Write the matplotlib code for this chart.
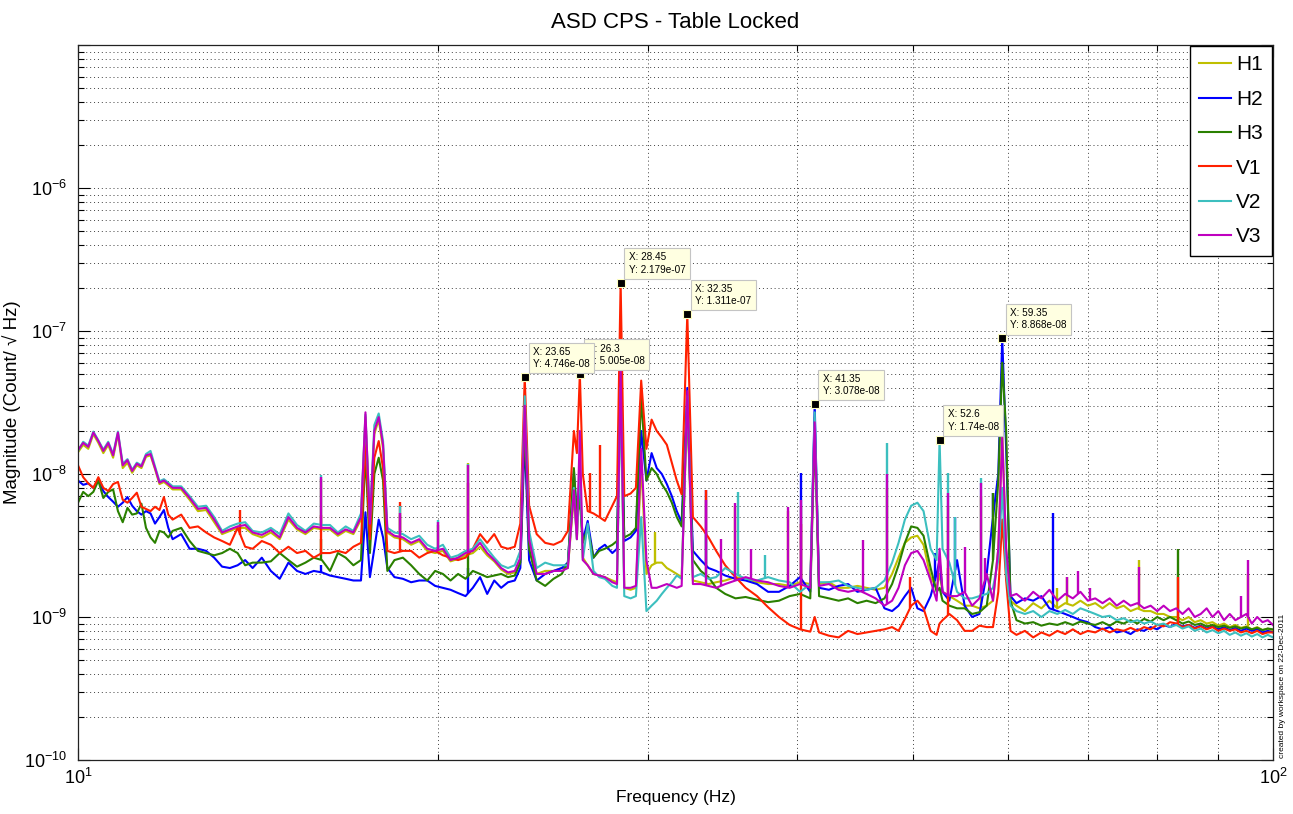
import numpy as np
import matplotlib
matplotlib.use('Agg')
import matplotlib.pyplot as plt
from matplotlib.ticker import FixedLocator, LogLocator, FuncFormatter, NullFormatter

plt.rcParams['font.family'] = ['Liberation Sans', 'DejaVu Sans']
plt.rcParams['mathtext.fontset'] = 'custom'
plt.rcParams['mathtext.rm'] = 'Liberation Sans'
plt.rcParams['mathtext.it'] = 'Liberation Sans:italic'
plt.rcParams['mathtext.bf'] = 'Liberation Sans:bold'

# frequency grid (Hz)
freq = [10.0, 10.1, 10.2, 10.3, 10.4, 10.5, 10.6, 10.7, 10.8, 10.9, 11.0, 11.1, 11.2, 11.3, 11.4, 11.5, 11.6, 11.7, 11.8, 11.9, 12.0,
        12.2, 12.4, 12.6, 12.8, 13.0, 13.2, 13.4, 13.6, 13.8, 14.0,
        14.25, 14.5, 14.75, 15.0, 15.25, 15.5, 15.75, 16.0, 16.25, 16.5, 16.75, 17.0,
        17.25, 17.4, 17.55, 17.7, 17.85, 18.0, 18.15, 18.4,
        18.7, 19.0, 19.3, 19.6, 19.9, 20.2, 20.5, 20.8, 21.1, 21.4, 21.7, 22.0, 22.3, 22.6, 22.9, 23.2, 23.45,
        23.65, 23.85, 24.2, 24.6, 25.0, 25.4, 25.7, 26.0, 26.15, 26.3, 26.45, 26.7, 27.0, 27.3, 27.6, 28.0, 28.25, 28.45,
        28.65, 29.0, 29.3, 29.6, 29.9, 30.2, 30.5, 30.8, 31.1, 31.4, 31.7, 32.0, 32.35, 32.7, 33.2, 33.7, 34.2, 34.8,
        35.5, 36.2, 37.0, 37.8, 38.6, 39.4, 40.2, 41.0, 41.35, 41.7, 42.5, 43.3, 44.1, 44.9, 45.7, 46.5, 47.3, 48.0, 48.6,
        49.2, 49.8, 50.4, 51.0, 51.7, 52.3, 52.6, 52.9, 53.6, 54.4, 55.2, 56.0, 56.8, 57.6, 58.3, 58.9, 59.35, 59.8, 60.3,
        61, 62, 63, 64, 65, 66, 67, 68, 69, 70, 71, 72, 73, 74, 75, 76, 77, 78, 79, 80,
        81, 82, 83, 84, 85, 86, 87, 88, 89, 90, 91, 92, 93, 94, 95, 96, 97, 98, 99, 100]

# magnitudes in units of 1e-9 Count/sqrt(Hz)
h1 = [14.2, 16.0, 15.0, 19.0, 16.5, 14.0, 16.0, 13.0, 19.0, 11.0, 12.0, 10.2, 11.5, 11.0, 13.2, 13.5, 10.8, 8.5, 8.8, 8.3, 7.8,
      7.8, 6.6, 5.5, 5.6, 4.6, 3.8, 4.0, 4.2, 4.2, 3.8,
      3.6, 3.9, 3.5, 4.8, 4.1, 3.8, 4.2, 4.1, 4.1, 3.7, 4.0, 3.8,
      4.8, 25, 4.4, 19, 24, 15, 3.9, 3.6,
      3.5, 3.2, 3.4, 2.9, 2.8, 2.9, 2.45, 2.55, 2.7, 2.8, 3.1, 2.7, 2.45, 2.15, 2.0, 2.05, 2.5,
      28, 3.3, 2.0, 2.1, 2.1, 2.2, 2.2, 7, 3.5, 10, 2.6, 2.3, 2.0, 1.95, 1.9, 1.8, 1.75, 45,
      1.6, 1.55, 1.6, 12, 2.0, 2.3, 2.4, 2.4, 2.2, 2.1, 2.0, 1.9, 30, 1.8, 1.75, 1.7, 1.75, 1.8,
      1.9, 1.85, 1.75, 1.7, 1.7, 1.65, 1.75, 1.7, 25, 1.7, 1.75, 1.6, 1.6, 1.65, 1.6, 1.55, 1.6, 2.0, 2.6,
      3.3, 3.6, 3.7, 3.2, 1.9, 1.6, 2.0, 1.5, 1.4, 1.3, 1.2, 1.2, 1.15, 1.2, 1.3, 3, 20, 3, 1.3,
      1.2, 1.1, 1.25, 1.15, 1.3, 1.15, 1.25, 1.2, 1.3, 1.2, 1.25, 1.15, 1.25, 1.15, 1.2, 1.1, 1.15, 1.1, 1.1, 1.05,
      1.05, 1.0, 1.0, 0.95, 1.0, 0.92, 0.95, 0.9, 0.92, 0.87, 0.9, 0.85, 0.88, 0.84, 0.86, 0.82, 0.85, 0.81, 0.83, 0.8]
h2 = [9.0, 8.4, 8.6, 8.0, 9.0, 7.6, 6.9, 6.4, 5.9, 6.3, 6.9, 6.0, 5.5, 5.2, 5.5, 5.3, 4.5, 5.0, 5.6, 4.2, 3.5,
      3.8, 3.0, 3.0, 2.9, 2.6, 2.25, 2.2, 2.3, 2.5, 2.2,
      2.6, 2.1, 1.85, 2.4, 2.1, 2.0, 2.1, 2.05, 1.95, 1.9, 1.85, 1.8,
      1.8, 5.4, 1.9, 3.0, 4.8, 3.6, 2.2, 1.9,
      1.85, 1.75, 1.8, 1.8, 1.65, 1.6, 1.55, 1.47, 1.4, 1.6, 1.9, 1.45, 1.8, 1.6, 1.75, 1.8, 2.2,
      18, 2.5, 1.8, 2.0, 2.1, 2.2, 2.4, 10.5, 5, 7.7, 3.4, 4.7, 2.6, 3.0, 3.2, 2.8, 3.0, 60,
      3.4, 3.6, 4.0, 20, 9, 14, 11, 10, 8.5, 7, 5.5, 4.6, 40, 2.9, 2.5, 2.2, 2.1, 1.95,
      1.85, 1.8, 1.7, 1.5, 1.5, 1.65, 1.9, 1.5, 30.78, 1.6, 1.55, 1.65, 1.7, 1.5, 1.55, 1.6, 1.15, 1.1, 1.2,
      1.4, 1.6, 1.15, 1.1, 1.4, 2.0, 2.5, 1.5, 1.3, 2.5, 1.2, 1.0, 1.05, 2.0, 5.0, 10, 88.68, 15, 1.4,
      1.25, 1.35, 1.3, 1.4, 1.15, 1.1, 1.05, 1.0, 0.95, 0.92, 0.85, 0.82, 0.85, 0.78, 0.8, 0.76, 0.82, 0.8, 0.85, 0.82,
      0.88, 0.85, 0.9, 0.86, 0.88, 0.84, 0.87, 0.83, 0.86, 0.82, 0.85, 0.81, 0.84, 0.8, 0.83, 0.8, 0.82, 0.78, 0.8, 0.78]
h3 = [6.3, 7.5, 7.0, 7.5, 9.0, 6.8, 7.5, 7.8, 5.5, 4.6, 5.8, 5.2, 5.3, 6.2, 4.2, 3.6, 3.3, 4.0, 3.9, 3.6, 4.0,
      4.2, 3.4, 2.9, 2.8, 2.7, 2.8, 3.0, 2.8, 2.3, 2.4,
      2.4, 2.45, 2.8, 2.5, 2.25, 2.4, 2.6, 2.5, 2.1, 2.8, 2.6, 2.3,
      2.5, 14, 2.8, 10, 13, 9, 2.1, 2.5,
      2.6, 2.3, 2.0, 1.8, 2.1, 2.0, 1.8, 2.0, 1.85, 2.1, 2.0, 1.9, 1.95, 2.0, 1.9, 1.95, 2.4,
      22, 3.0, 1.8, 1.65, 1.85, 2.0, 2.4, 11, 5, 6.6, 3.3, 4.2, 2.6, 2.9, 3.0, 3.2, 3.4, 50,
      3.6, 3.8, 4.2, 35, 9, 11, 10, 8.5, 7.5, 6.3, 5.0, 4.3, 30, 2.5, 2.1, 1.9, 1.6, 1.45,
      1.35, 1.38, 1.32, 1.27, 1.3, 1.4, 1.45, 1.35, 20, 1.4, 1.35, 1.3, 1.35, 1.25, 1.3, 1.25, 1.35, 1.7, 2.3,
      3.3, 4.3, 4.2, 3.7, 2.2, 1.5, 1.6, 1.3, 1.2, 1.15, 1.15, 1.05, 1.08, 1.2, 2.5, 9, 60, 20, 1.3,
      0.95, 0.9, 0.92, 0.87, 0.9, 0.88, 0.92, 0.88, 0.93, 0.9, 0.88, 0.92, 0.87, 0.93, 0.9, 0.95, 0.9, 0.97, 0.93, 1.0,
      0.95, 1.0, 0.95, 0.9, 0.93, 0.88, 0.9, 0.86, 0.88, 0.85, 0.87, 0.84, 0.86, 0.83, 0.85, 0.82, 0.84, 0.81, 0.83, 0.82]
v1 = [11.5, 9.5, 8.6, 8.0, 9.5, 8.0, 7.6, 8.5, 8.8, 6.6, 6.3, 6.8, 7.4, 5.9, 5.7, 5.5, 5.9, 5.6, 6.9, 5.2, 4.8,
      5.2, 4.2, 4.3, 3.9, 3.6, 3.4, 3.2, 4.2, 3.1, 3.0,
      3.4, 3.2, 2.8, 3.1, 2.8, 2.9, 2.6, 2.8, 2.8, 2.9, 2.8, 3.1,
      3.3, 17, 3.5, 13, 17, 11, 2.9, 2.8,
      2.9, 2.9, 2.6, 2.8, 2.9, 2.7, 2.6, 2.5, 2.6, 3.0, 3.8, 3.3, 3.8, 3.1, 3.0, 3.1, 4.5,
      47.46, 6, 3.8, 3.3, 3.2, 3.4, 4.0, 20, 14, 50.05, 10, 5.5, 5.3, 5.0, 4.7, 6.0, 7.0, 217.9,
      7.0, 7.3, 8.0, 45, 15, 24, 20, 18, 16, 12, 9, 7.2, 131.1, 5.0, 4.3, 3.6, 2.9, 2.3,
      1.9, 1.6, 1.4, 1.17, 1.0, 0.88, 0.82, 0.79, 1.0, 0.78, 0.74, 0.72, 0.8, 0.76, 0.78, 0.8, 0.82, 0.85, 0.8,
      0.97, 1.2, 1.3, 1.15, 0.8, 0.75, 0.9, 0.95, 1.05, 0.95, 0.8, 0.8, 0.87, 0.85, 0.85, 1.5, 4.8, 1.8, 0.8,
      0.75, 0.8, 0.72, 0.78, 0.74, 0.8, 0.76, 0.82, 0.76, 0.8, 0.78, 0.83, 0.78, 0.82, 0.8, 0.84, 0.8, 0.85, 0.82, 0.88,
      0.86, 0.92, 0.9, 0.85, 0.88, 0.83, 0.86, 0.82, 0.85, 0.8, 0.83, 0.8, 0.82, 0.78, 0.8, 0.77, 0.8, 0.76, 0.78, 0.78]
v2 = [14.5, 16.8, 15.8, 19.8, 17.2, 14.8, 16.8, 13.8, 19.8, 11.8, 12.7, 10.7, 12.0, 11.5, 13.8, 14.5, 11.3, 8.9, 9.2, 8.7, 8.2,
      8.2, 7.0, 5.9, 6.0, 5.0, 4.0, 4.3, 4.5, 4.6, 4.0,
      3.9, 4.2, 3.8, 5.3, 4.4, 4.0, 4.5, 4.4, 4.4, 3.9, 4.3, 4.0,
      5.3, 26, 4.8, 22, 26.5, 17, 4.2, 3.9,
      3.8, 3.5, 3.7, 3.2, 3.0, 3.2, 2.6, 2.7, 2.9, 3.0, 3.5, 3.0, 2.6, 2.3, 2.2, 2.3, 2.9,
      35, 4, 2.2, 2.4, 2.3, 2.3, 2.3, 8, 3.5, 12, 2.5, 4.5, 2.1, 1.9, 1.85, 1.65, 1.6, 40,
      1.4, 1.35, 1.4, 5, 1.1, 1.2, 1.3, 1.45, 1.6, 1.75, 1.95, 1.85, 35, 1.9, 2.0, 1.85, 1.9, 2.2,
      2.0, 1.85, 1.8, 1.9, 1.8, 1.75, 1.5, 1.7, 27, 1.75, 1.75, 1.8, 1.65, 1.6, 1.55, 1.6, 1.8, 2.4, 3.3,
      4.8, 6.0, 6.3, 5.5, 3.0, 2.5, 17.4, 3.0, 2.4, 1.5, 1.35, 1.35, 1.4, 1.45, 1.6, 2.5, 8, 2.0, 1.2,
      1.1, 1.05, 1.1, 1.0, 1.1, 1.05, 1.12, 1.05, 1.15, 1.1, 1.05, 1.0, 1.02, 0.95, 0.98, 0.92, 0.95, 0.9, 0.93, 0.88,
      0.9, 0.85, 0.88, 0.83, 0.86, 0.8, 0.83, 0.78, 0.81, 0.77, 0.8, 0.75, 0.78, 0.74, 0.77, 0.73, 0.76, 0.72, 0.75, 0.72]
v3 = [14.7, 16.5, 15.5, 19.5, 17, 14.5, 16.5, 13.5, 19.5, 11.5, 12.5, 10.5, 11.8, 11.3, 13.5, 13.8, 11.0, 8.7, 9.0, 8.5, 8.0,
      8.0, 6.8, 5.7, 5.8, 4.8, 3.9, 4.1, 4.3, 4.4, 3.9,
      3.75, 4.05, 3.6, 5.0, 4.2, 3.9, 4.3, 4.2, 4.2, 3.8, 4.1, 3.9,
      5.0, 27, 4.5, 20, 25, 16, 4.0, 3.7,
      3.6, 3.3, 3.5, 3.0, 2.9, 3.0, 2.5, 2.6, 2.8, 2.9, 3.3, 2.8, 2.5, 2.2, 2.05, 2.1, 2.6,
      30, 3.5, 2.0, 2.0, 2.1, 2.1, 2.2, 7.7, 3.5, 20, 2.5, 2.3, 2.0, 1.95, 1.9, 1.75, 1.7, 53,
      1.6, 1.6, 1.65, 15, 2.5, 1.6, 1.6, 1.65, 1.7, 1.65, 1.6, 1.65, 38, 1.7, 1.7, 1.65, 1.6, 1.7,
      1.8, 1.9, 1.8, 1.75, 1.65, 1.6, 1.7, 1.6, 23, 1.65, 1.7, 1.55, 1.5, 1.55, 1.45, 1.35, 1.2, 1.3, 1.6,
      2.3, 2.8, 2.9, 2.5, 1.8, 1.3, 3.0, 1.5, 1.4, 1.4, 1.5, 1.2, 1.35, 2.0, 1.3, 3.0, 18, 3.0, 1.4,
      1.45, 1.3, 1.5, 1.35, 1.55, 1.3, 1.45, 1.35, 1.5, 1.3, 1.35, 1.25, 1.35, 1.2, 1.3, 1.2, 1.25, 1.15, 1.2, 1.1,
      1.2, 1.1, 1.15, 1.05, 1.15, 1.0, 1.05, 1.15, 1.0, 1.1, 0.95, 1.05, 0.95, 1.0, 1.05, 0.9, 1.0, 0.92, 0.95, 0.88]

# narrow lines (Hz, top value in 1e-9)
h1_spk_f = [15.97, 18.6, 20.0, 21.2, 30.4, 35.45, 39.3, 40.3, 47.5, 53.5, 57.0, 66.0, 67.2, 77.3, 95.3]
h1_spk_v = [9.2, 5.2, 4.4, 12, 3.9, 6.0, 5.5, 6.0, 8.0, 6.0, 7.0, 1.6, 1.9, 2.5, 2.0]
h2_spk_f = [15.97, 21.2, 33.55, 40.3, 52.1, 54.2, 58.3, 65.4]
h2_spk_v = [2.3, 2.2, 7.7, 10.1, 2.8, 5.0, 7.4, 5.3]
h3_spk_f = [15.97, 21.2, 33.55, 58.3, 83.2]
h3_spk_v = [3.5, 3.0, 4.0, 7.4, 3.0]
v1_spk_f = [13.67, 15.97, 18.6, 21.2, 26.8, 27.35, 33.55, 40.3, 49.7, 53.5, 83.2]
v1_spk_v = [5.6, 5.2, 6.4, 8.6, 10.2, 16, 7.7, 4.5, 1.9, 2.2, 1.9]
v2_spk_f = [15.97, 18.6, 20.0, 21.2, 35.7, 37.6, 47.5, 53.5, 54.2, 57.0]
v2_spk_v = [9.8, 6.0, 4.8, 11.8, 7.5, 2.7, 16.4, 10.1, 5.0, 9.4]
v3_spk_f = [15.97, 18.6, 20.0, 21.2, 33.55, 34.5, 35.45, 36.6, 39.3, 40.3, 45.4, 47.5, 53.5, 55.2, 57.0, 57.4,
            67.2, 68.7, 70.3, 77.3, 94.0, 95.3]
v3_spk_v = [9.5, 5.3, 4.6, 11.5, 6.6, 3.5, 6.3, 3.0, 5.9, 6.6, 3.45, 10, 7.4, 3.1, 8.6, 2.6,
            1.9, 2.1, 1.6, 2.25, 1.4, 2.5]

# data tips
tip_x = [23.65, 26.3, 28.45, 32.35, 41.35, 52.6, 59.35]
tip_y = [4.746e-08, 5.005e-08, 2.179e-07, 1.311e-07, 3.078e-08, 1.74e-08, 8.868e-08]

names = ['H1', 'H2', 'H3', 'V1', 'V2', 'V3']
colors = ['#bfbf00', '#0000ff', '#2a8000', '#ff2000', '#3cbfbf', '#bf00bf']
series = [h1, h2, h3, v1, v2, v3]
spikes = [(h1_spk_f, h1_spk_v), (h2_spk_f, h2_spk_v), (h3_spk_f, h3_spk_v),
          (v1_spk_f, v1_spk_v), (v2_spk_f, v2_spk_v), (v3_spk_f, v3_spk_v)]

scale = 1e-9
f = np.array(freq)

fig = plt.figure(figsize=(12.93, 8.14), dpi=100)
ax = fig.add_axes([78 / 1293, 54 / 814, 1195 / 1293, 715 / 814])
ax.set_xscale('log')
ax.set_yscale('log')

for name, col, vals, (sf, sv) in zip(names, colors, series, spikes):
    v = np.array(vals) * scale
    ax.plot(f, v, color=col, lw=1.5, label=name)
    sf = np.array(sf)
    base = 10 ** np.interp(np.log10(sf), np.log10(f), np.log10(v))
    ax.vlines(sf, base, np.array(sv) * scale, color=col, lw=1.7)

# data tip markers and boxes (earlier ones drawn on top)
for i, (x, y) in enumerate(reversed(list(zip(tip_x, tip_y)))):
    ax.plot([x], [y], 's', ms=6, color='k', mec='#ffffc0', mew=0.8, zorder=10 + 2 * i)
    ax.annotate(f'X: {x:g}\nY: {y:.4g}', xy=(x, y), xytext=(8, 8), textcoords='offset pixels',
                ha='left', va='bottom', fontsize=7.2, linespacing=1.3,
                bbox=dict(boxstyle='square,pad=0.42', fc='#ffffe1', ec='#c4c4c4', lw=0.8),
                zorder=11 + 2 * i)

ax.set_xlim(10, 100)
ax.set_ylim(1e-10, 1e-5)

ax.xaxis.set_major_locator(FixedLocator([10, 100]))
ax.xaxis.set_minor_locator(FixedLocator([20, 30, 40, 50, 60, 70, 80, 90]))
ax.yaxis.set_major_locator(FixedLocator([1e-10, 1e-9, 1e-8, 1e-7, 1e-6, 1e-5]))
ax.yaxis.set_minor_locator(LogLocator(base=10, subs=np.arange(2, 10), numticks=20))
fmt = FuncFormatter(lambda val, pos: r'$10^{%d}$' % round(np.log10(val)))
ax.xaxis.set_major_formatter(fmt)
ax.yaxis.set_major_formatter(FuncFormatter(
    lambda val, pos: '' if val > 5e-6 else r'$10^{%d}$' % round(np.log10(val))))
ax.xaxis.set_minor_formatter(NullFormatter())
ax.yaxis.set_minor_formatter(NullFormatter())

ax.grid(True, which='both', linestyle=(0, (1, 3)), color='0.25', lw=0.7)
ax.tick_params(which='both', direction='in', top=True, right=True, labelsize=13, width=0.8)
ax.tick_params(which='major', length=8.5)
ax.tick_params(which='minor', length=4.5)
ax.tick_params(axis='y', pad=8)
ax.tick_params(axis='x', pad=6)
for s in ax.spines.values():
    s.set_linewidth(0.9)
    s.set_color('#222222')

ax.set_title('ASD CPS - Table Locked', fontsize=16, pad=12)
ax.set_xlabel('Frequency (Hz)', fontsize=12.5, labelpad=1)
ax.set_ylabel('Magnitude (Count/ \u221a Hz)', fontsize=13.5, labelpad=2)

ax.legend(loc='upper right', fontsize=15, frameon=True, fancybox=False, edgecolor='k',
          framealpha=1, borderaxespad=0.05, handlelength=1.5, handletextpad=0.25,
          labelspacing=0.74, borderpad=0.45)

fig.text(1283 / 1293, 56 / 814, 'created by workspace on 22-Dec-2011', rotation=90,
         fontsize=6, ha='center', va='bottom')

fig.savefig('out.png', dpi=100)
